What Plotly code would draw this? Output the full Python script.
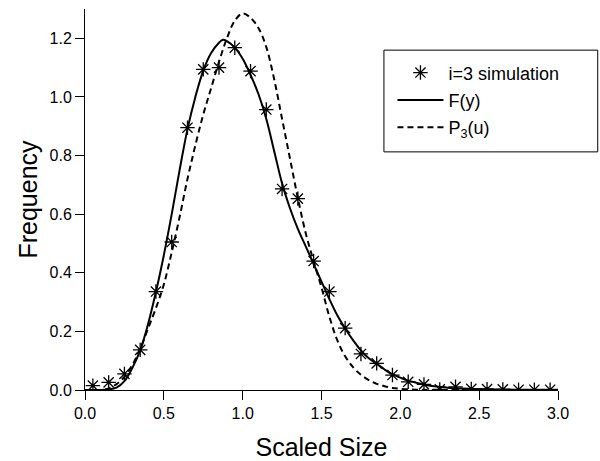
import plotly.graph_objects as go

# Simulation points (i=3 simulation)
sim_x = [0.05, 0.15, 0.25, 0.35, 0.45, 0.55, 0.65, 0.75, 0.85, 0.95,
         1.05, 1.15, 1.25, 1.35, 1.45, 1.55, 1.65, 1.75, 1.85, 1.95,
         2.05, 2.15, 2.25, 2.35, 2.45, 2.55, 2.65, 2.75, 2.85, 2.95]
sim_y = [0.015, 0.026, 0.055, 0.137, 0.336, 0.505, 0.895, 1.094, 1.100, 1.168,
         1.088, 0.957, 0.686, 0.653, 0.440, 0.336, 0.211, 0.123, 0.091, 0.051,
         0.028, 0.019, 0.002, 0.011, 0.004, 0.003, 0.002, 0.001, 0.001, 0.001]

# F(y) curve (solid)
f_x = [0.0, 0.1, 0.15, 0.2, 0.25, 0.3, 0.35, 0.4, 0.45, 0.5, 0.55, 0.6, 0.65,
       0.7, 0.75, 0.8, 0.85, 0.875, 0.9, 0.95, 1.0, 1.05, 1.1, 1.15, 1.2, 1.25,
       1.3, 1.35, 1.4, 1.45, 1.5, 1.55, 1.6, 1.65, 1.7, 1.75, 1.8, 1.85, 1.9,
       1.95, 2.0, 2.05, 2.1, 2.15, 2.2, 2.25, 2.3, 2.4, 2.5, 2.6, 2.8, 3.0]
f_y = [0.0, 0.0, 0.002, 0.008, 0.03, 0.075, 0.135, 0.225, 0.335, 0.46, 0.6, 0.75, 0.89,
       1.0, 1.09, 1.15, 1.185, 1.195, 1.19, 1.168, 1.13, 1.075, 1.01, 0.925, 0.815, 0.705,
       0.62, 0.55, 0.49, 0.43, 0.37, 0.31, 0.255, 0.21, 0.17, 0.135, 0.108, 0.09, 0.07,
       0.053, 0.042, 0.032, 0.025, 0.019, 0.014, 0.011, 0.008, 0.005, 0.003, 0.002, 0.001, 0.0005]

# P3(u) curve (dashed)
p_x = [0.0, 0.1, 0.15, 0.2, 0.25, 0.3, 0.35, 0.4, 0.45, 0.5, 0.55, 0.6, 0.65,
       0.7, 0.75, 0.8, 0.85, 0.9, 0.95, 1.0, 1.05, 1.1, 1.15, 1.2, 1.25, 1.3,
       1.35, 1.4, 1.45, 1.5, 1.55, 1.6, 1.65, 1.7, 1.75, 1.8, 1.85, 1.9, 1.95,
       2.0, 2.1, 2.2, 2.4, 2.7, 3.0]
p_y = [0.0, 0.0, 0.005, 0.02, 0.045, 0.085, 0.14, 0.21, 0.28, 0.36, 0.47, 0.59, 0.72,
       0.835, 0.94, 1.03, 1.12, 1.2, 1.26, 1.285, 1.27, 1.235, 1.17, 1.06, 0.925, 0.79,
       0.655, 0.535, 0.44, 0.35, 0.25, 0.17, 0.115, 0.078, 0.052, 0.034, 0.021, 0.013, 0.007,
       0.004, 0.001, 0.0, 0.0, 0.0, 0.0]

x_ticks = [0.0, 0.5, 1.0, 1.5, 2.0, 2.5, 3.0]
y_ticks = [0.0, 0.2, 0.4, 0.6, 0.8, 1.0, 1.2]

FONT = "Liberation Sans, Arial, Helvetica, sans-serif"

fig = go.Figure()
fig.add_trace(go.Scatter(
    x=sim_x, y=sim_y, mode="markers", name="i=3 simulation", legendgroup="a",
    marker=dict(symbol="asterisk-open", size=12, color="black",
                line=dict(color="black", width=1.3)),
))
fig.add_trace(go.Scatter(
    x=f_x, y=f_y, mode="lines", name="F(y)", line_shape="spline", legendgroup="b",
    line=dict(color="black", width=2),
))
fig.add_trace(go.Scatter(
    x=p_x, y=p_y, mode="lines", name="P<sub>3</sub>(u)", line_shape="spline", legendgroup="c",
    line=dict(color="black", width=2, dash="6px,4px"),
))

# legend frame
fig.add_shape(type="rect", xref="paper", yref="paper",
              x0=0.632, x1=1.084, y0=0.625, y1=0.892,
              line=dict(color="black", width=1), fillcolor="white", layer="below")

fig.update_layout(
    width=600, height=461,
    margin=dict(l=85, r=42, t=9, b=71),
    paper_bgcolor="white", plot_bgcolor="rgba(0,0,0,0)",
    font=dict(family=FONT, color="black", size=16),
    showlegend=True,
    legend=dict(
        x=0.65, y=0.881, xanchor="left", yanchor="top",
        borderwidth=0, bgcolor="rgba(0,0,0,0)",
        font=dict(size=18, family=FONT), tracegroupgap=1,
        itemwidth=46,
    ),
    xaxis=dict(
        range=[0, 3.0], tickvals=x_ticks, tickformat=".1f", automargin=False,
        showgrid=False, zeroline=False, showline=True, linecolor="black", linewidth=1,
        ticks="outside", ticklen=9, tickcolor="black",
        tickfont=dict(size=16),
        title=dict(text="Scaled Size", font=dict(size=25), standoff=20),
    ),
    yaxis=dict(
        range=[0, 1.3], tickvals=y_ticks, tickformat=".1f", automargin=False,
        showgrid=False, zeroline=False, showline=True, linecolor="black", linewidth=1,
        ticks="outside", ticklen=9, tickcolor="black",
        tickfont=dict(size=16),
        title=dict(text="Frequency", font=dict(size=25), standoff=4),
    ),
)

fig.write_html("out.html", config={"displayModeBar": False},
               post_script="document.body.style.margin='0';")
